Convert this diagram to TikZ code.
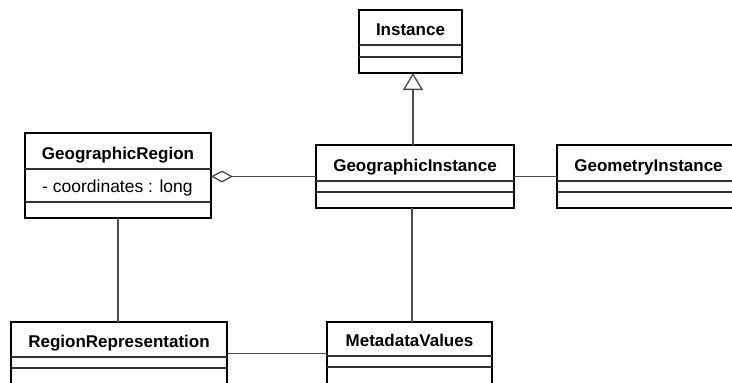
\documentclass[tikz,border=0pt]{standalone}
\usepackage{fontspec}
\setmainfont{Liberation Sans}
\usetikzlibrary{arrows.meta,fit}
\tikzset{
  clsbox/.style={draw=black, line width=2.8pt, inner sep=0pt, outer sep=0pt},
  sepline/.style={draw=black!80, line width=1.5pt},
  clsname/.style={font=\fontsize{17}{20}\selectfont\bfseries, inner sep=0pt, anchor=base},
  attr/.style={font=\fontsize{17.5}{20}\selectfont, inner sep=0pt, anchor=base west},
  conn/.style={draw=black!70, line width=1.3pt},
  gen/.style={conn, -{Triangle[open, width=20pt, length=17pt, line width=1.3pt]}},
  agg/.style={conn, {Diamond[open, width=12pt, length=22pt, line width=1.3pt]}-},
}
\newcommand\umlbox[8]{%
  \node[clsbox, fit={(#2,#3) (#4,#5)}] (#1) {};
  \draw[sepline] (#2,#6) -- (#4,#6);
  \draw[sepline] (#2,#7) -- (#4,#7);
  \node[clsname] (#1-name) at ({(#2+#4)/2},{#6-10}) {#8};
}
\begin{document}
\begin{tikzpicture}[x=1pt,y=-1pt]
\useasboundingbox (0,0) rectangle (732,383);
\clip (0,0) rectangle (732,383);
\fill[white] (0,0) rectangle (732,383);
\umlbox{inst}{359}{10}{462}{73}{45}{57}{Instance}
\umlbox{gr}{25}{133}{211}{218}{169}{202}{GeographicRegion}
\node[attr] (gr-attr) at (42,192) {- coordinates : long};
\umlbox{gi}{316}{145}{514}{208}{181}{192}{GeographicInstance}
\umlbox{geo}{557}{145}{740}{208}{181}{192}{GeometryInstance}
\umlbox{rr}{11}{322}{227}{385}{357}{368}{RegionRepresentation}
\umlbox{mv}{327}{322}{492}{385}{356}{367}{MetadataValues}
% connectors
\draw[gen] ([xshift=-2pt]gi.north) -- ([xshift=-2pt]gi.north |- inst.south);
\draw[agg] (gi.west -| gr.east) -- (gi.west);
\draw[conn] (gi.east) -- (gi.east -| geo.west);
\draw[conn] (gr.south) -- (gr.south |- rr.north);
\draw[conn] ([xshift=-3pt]gi.south) -- ([xshift=-3pt]gi.south |- mv.north);
\draw[conn] (rr.east) -- (rr.east -| mv.west);
\end{tikzpicture}
\end{document}
